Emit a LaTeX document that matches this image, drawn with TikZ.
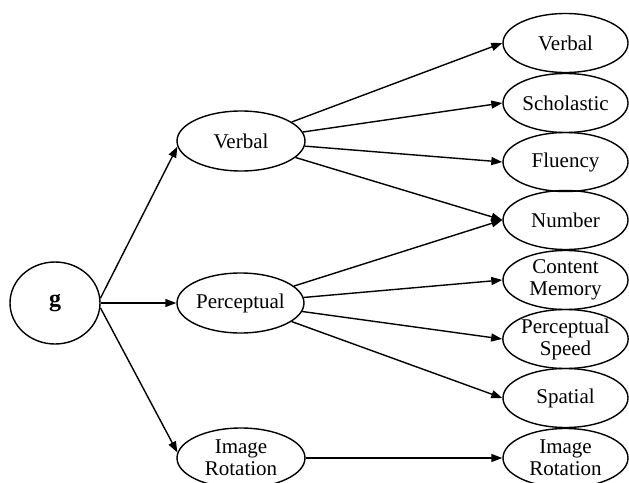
\documentclass[tikz,border=0pt]{standalone}
\usepackage{fontspec}
\setmainfont{Liberation Serif}
\usetikzlibrary{shapes.geometric,arrows.meta}
\begin{document}
\begin{tikzpicture}[x=1pt,y=-1pt,
  el/.style={ellipse,draw,line width=1.4pt,inner sep=0pt,minimum width=128pt,minimum height=60pt,align=center,font=\fontsize{21}{22}\selectfont},
  rel/.style={el,minimum width=125pt,minimum height=59pt},
  arr/.style={line width=1.4pt,-{Triangle[length=11pt,width=8pt]}}]
\clip (0,0) rectangle (629,482);
\node[el,minimum width=90pt,minimum height=82pt,font=\fontsize{24}{26}\selectfont\bfseries] (g) at (55,303) {g};
\node[el] (mV) at (241,141) {Verbal};
\node[el,minimum width=127pt] (mP) at (240.5,303) {Perceptual};
\node[el] (mI) at (241,458) {Image\\Rotation};
\node[rel] (rV) at (565.5,43) {Verbal};
\node[rel] (rS) at (565.5,103) {Scholastic};
\node[rel] (rF) at (565.5,162) {Fluency};
\node[rel] (rN) at (565.5,220) {Number};
\node[rel] (rC) at (565.5,280) {Content\\Memory};
\node[rel] (rPS) at (565.5,339) {Perceptual\\Speed};
\node[rel] (rSp) at (565.5,398) {Spatial};
\node[rel] (rI) at (565.5,458) {Image\\Rotation};
\draw[arr] (g.6) -- (mV.185);
\draw[arr] (g.east) -- (mP.west);
\draw[arr] (g.-6) -- (mI.175);
\draw[arr] (mV) -- (rV.west);
\draw[arr] (mV) -- (rS.west);
\draw[arr] (mV) -- (rF.west);
\draw[arr] (mV) -- (rN.west);
\draw[arr] (mP) -- (rN.west);
\draw[arr] (mP) -- (rC.west);
\draw[arr] (mP) -- (rPS.west);
\draw[arr] (mP) -- (rSp.west);
\draw[arr] (mI) -- (rI.west);
\end{tikzpicture}
\end{document}
